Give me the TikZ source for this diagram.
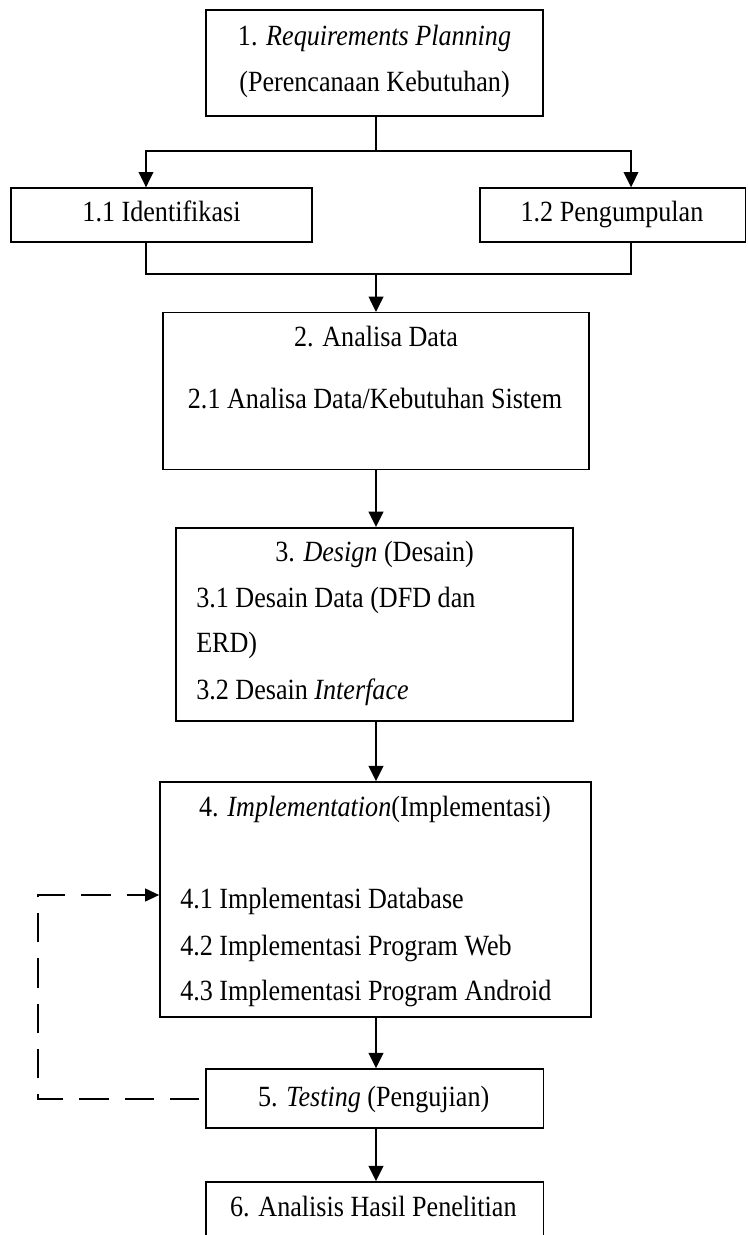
\documentclass[tikz,border=0pt]{standalone}
\usepackage{fontspec}
\setmainfont{Liberation Serif}[FakeStretch=0.89]
\usetikzlibrary{arrows.meta}
\begin{document}
\begin{tikzpicture}[x=0.75pt,y=-0.75pt,
  font=\fontsize{22}{26}\selectfont,
  box/.style={draw, line width=1.2pt, inner sep=0pt, rectangle},
  lbl/.style={anchor=base, inner sep=0pt},
  lbll/.style={anchor=base west, inner sep=0pt},
  ln/.style={line width=1.5pt},
  arr/.style={line width=1.5pt, -{Triangle[length=11.5pt,width=11pt]}},
  loop/.style={line width=1.5pt, dash pattern=on 22pt off 12pt, -{Triangle[length=10.5pt,width=9.5pt]}}]
\clip (0,0) rectangle (747,1235);

% trunk and branch guides
\coordinate (tr) at (376,0);
\coordinate (xl) at (146,0);
\coordinate (xr) at (631,0);
\coordinate (sp) at (376,151);
\coordinate (jn) at (376,274);

% boxes
\node[box, minimum width=252.75pt, minimum height=79.5pt] (b1) at (374.4,63) {};
\node[box, minimum width=225.75pt, minimum height=40.3pt] (b11) at (161.5,215) {};
\node[box, minimum width=199.1pt, minimum height=40.3pt] (b12) at (612.75,215) {};
\node[box, minimum width=319.5pt, minimum height=117.5pt] (b2) at (376,391) {};
\node[box, minimum width=297.5pt, minimum height=145pt] (b3) at (374.4,624.4) {};
\node[box, minimum width=323.25pt, minimum height=176.25pt] (b4) at (375.5,899.5) {};
\node[box, minimum width=253.1pt, minimum height=44.25pt] (b5) at (374.75,1098.5) {};
\node[box, minimum width=253.1pt, minimum height=60pt] (b6) at (374.75,1222) {};

% texts
\node[lbl] (t1a) at (374.5,45) {1. \textit{Requirements Planning}};
\node[lbl] (t1b) at (374.5,91) {(Perencanaan Kebutuhan)};
\node[lbl] (t11) at (161.5,221.5) {1.1 Identifikasi};
\node[lbl] (t12) at (612,221.5) {1.2 Pengumpulan};
\node[lbl] (t2a) at (376,346.5) {2. Analisa Data};
\node[lbl] (t2b) at (375,408) {2.1 Analisa Data/Kebutuhan Sistem};
\node[lbl] (t3a) at (374.6,561.5) {3. \textit{Design} (Desain)};
\node[lbll] (t3b) at (196,607) {3.1 Desain Data (DFD dan};
\node[lbll] (t3c) at (196,652.5) {ERD)};
\node[lbll] (t3d) at (196,699) {3.2 Desain \textit{Interface}};
\node[lbl] (t4a) at (375,816) {4. \textit{Implementation}(Implementasi)};
\node[lbll] (t4b) at (180,908) {4.1 Implementasi Database};
\node[lbll] (t4c) at (180,955) {4.2 Implementasi Program Web};
\node[lbll] (t4d) at (180,1000) {4.3 Implementasi Program Android};
\node[lbl] (t5) at (373.7,1106) {5. \textit{Testing} (Pengujian)};
\node[lbl] (t6) at (373.4,1216.5) {6. Analisis Hasil Penelitian};

% connectors
\draw[ln] (b1.south -| tr) -- (sp);
\draw[arr] (sp) -| (b11.north -| xl);
\draw[arr] (sp) -| (b12.north -| xr);
\draw[ln] (b11.south -| xl) -- (xl |- jn) -- (xr |- jn) -- (b12.south -| xr);
\draw[arr] (jn) -- (b2.north -| tr);
\draw[arr] (b2.south -| tr) -- (b3.north -| tr);
\draw[arr] (b3.south -| tr) -- (b4.north -| tr);
\draw[arr] (b4.south -| tr) -- (b5.north -| tr);
\draw[arr] (b5.south -| tr) -- (b6.north -| tr);

% feedback loop from testing back to implementation
\coordinate (lp1) at (38,1098.5);
\coordinate (lp2) at (38,895);
\draw[loop] ([xshift=-4.5pt]b5.west) -- (lp1) -- (lp2) -- (b4.west |- lp2);
\end{tikzpicture}
\end{document}
